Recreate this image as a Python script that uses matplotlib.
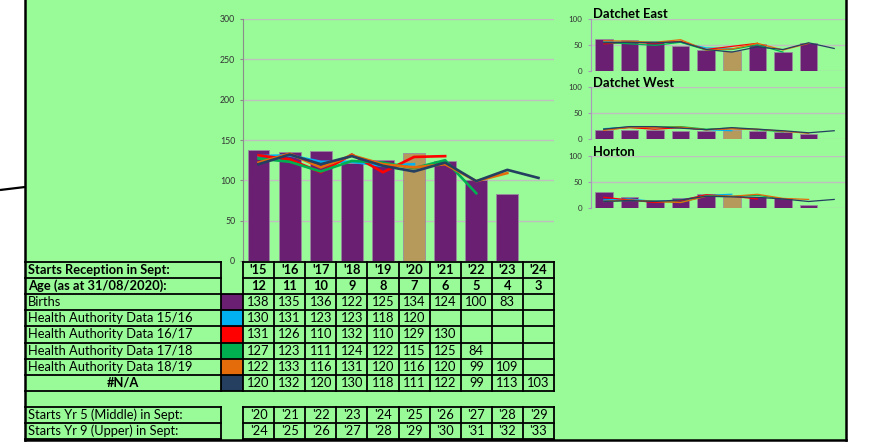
import matplotlib
matplotlib.use("Agg")
import matplotlib.pyplot as plt
from matplotlib.patches import Rectangle

plt.rcParams['font.family'] = ['Lato', 'DejaVu Sans']

# ---------------- data ----------------
years = ["'15", "'16", "'17", "'18", "'19", "'20", "'21", "'22", "'23", "'24"]
ages = ["12", "11", "10", "9", "8", "7", "6", "5", "4", "3"]
yr5 = ["'20", "'21", "'22", "'23", "'24", "'25", "'26", "'27", "'28", "'29"]
yr9 = ["'24", "'25", "'26", "'27", "'28", "'29", "'30", "'31", "'32", "'33"]

births = [138, 135, 136, 122, 125, 134, 124, 100, 83]
ha1516 = [130, 131, 123, 123, 118, 120]
ha1617 = [131, 126, 110, 132, 110, 129, 130]
ha1718 = [127, 123, 111, 124, 122, 115, 125, 84]
ha1819 = [122, 133, 116, 131, 120, 116, 120, 99, 109]
na_series = [120, 132, 120, 130, 118, 111, 122, 99, 113, 103]

series_labels = ["Births", "Health Authority Data 15/16", "Health Authority Data 16/17",
                 "Health Authority Data 17/18", "Health Authority Data 18/19", "#N/A"]

small_titles = ["Datchet East", "Datchet West", "Horton"]
small_births = [[61, 59, 57, 48, 40, 39, 52, 37, 53],
                [17, 18, 18, 15, 15, 17, 16, 14, 10],
                [30, 20, 15, 19, 26, 23, 21, 19, 5]]
small_ha1516 = [[56, 55, 56, 55, 44, 43],
                [20, 23, 22, 22, 18, 16],
                [15, 17, 12, 15, 24, 26]]
small_ha1617 = [[52, 55, 53, 57, 41, 47, 53],
                [18, 22, 19, 22, 18, 20, 18],
                [20, 15, 10, 14, 25, 22, 17]]
small_ha1718 = [[55, 52, 49, 55, 40, 41, 50, 36],
                [19, 23, 23, 24, 19, 21, 18, 14],
                [12, 14, 13, 10, 23, 22, 24, 17]]
small_ha1819 = [[58, 57, 55, 60, 40, 42, 53, 40, 53],
                [17, 23, 22, 23, 18, 20, 19, 15, 11],
                [12, 15, 12, 10, 22, 22, 26, 18, 16]]
small_na = [[54, 55, 54, 56, 41, 36, 46, 41, 54, 43],
            [19, 24, 24, 21, 18, 22, 19, 16, 12, 16],
            [12, 14, 12, 15, 22, 21, 20, 17, 12, 16]]

# ---------------- styles ----------------
BG = '#98FB98'
PURPLE = '#6B1F73'
TAN = '#B59A5B'
C_BLUE = '#00B0F0'
C_RED = '#FF0000'
C_GREEN = '#00B050'
C_ORANGE = '#E46C0A'
C_NAVY = '#243F60'
line_colors = [C_BLUE, C_RED, C_GREEN, C_ORANGE, C_NAVY]
swatch_colors = [PURPLE] + line_colors
GRID = '#BFBFBF'
HIGHLIGHT = 5

W, H = 874, 442
fig = plt.figure(figsize=(W / 100, H / 100), dpi=100, facecolor='white')


def px_axes(x0, y0, x1, y1, **kw):
    return fig.add_axes([x0 / W, 1 - y1 / H, (x1 - x0) / W, (y1 - y0) / H], **kw)


# background overlay
bg = px_axes(0, 0, W, H, zorder=0)
bg.set_xlim(0, W)
bg.set_ylim(H, 0)
bg.axis('off')
bg.add_patch(Rectangle((25, -5), 846 - 25, 445, facecolor=BG, edgecolor='none'))
bg.plot([0, 25], [190, 187], color='black', lw=1.6, solid_capstyle='butt')

# ---------------- main chart ----------------
AX_L, AX_R, AX_T, AX_B = 243, 554, 19, 261
ax = px_axes(AX_L, AX_T, AX_R, AX_B, zorder=2)
ax.set_facecolor('none')
xs = list(range(len(years)))
bar_cols = [TAN if i == HIGHLIGHT else PURPLE for i in range(len(births))]
ax.bar(xs[:len(births)], births, width=0.7, color=bar_cols, edgecolor='#9A8AA0', linewidth=0.6, zorder=2)
for s, c in zip([ha1516, ha1617, ha1718, ha1819, na_series], line_colors):
    ax.plot(xs[:len(s)], s, color=c, lw=1.9, zorder=3, solid_joinstyle='round')
ax.set_xlim(-0.5, len(years) - 0.5)
ax.set_ylim(0, 300)
ax.set_yticks(range(0, 301, 50))
ax.yaxis.grid(True, color=GRID, lw=1.0)
ax.set_axisbelow(True)
ax.set_xticks([])
for sp in ['top', 'right', 'bottom']:
    ax.spines[sp].set_visible(False)
ax.spines['left'].set_color('#8C8C8C')
ax.tick_params(axis='y', length=2.5, pad=3, color='#8C8C8C', labelsize=6.3, labelcolor='#333333')

# ---------------- small charts ----------------
S_L, S_R = 591, 847
tops = [19, 87.3, 156]
SH = 51.7
for k in range(3):
    sa = px_axes(S_L, tops[k], S_R, tops[k] + SH, zorder=2)
    sa.set_facecolor('none')
    b = small_births[k]
    cols = [TAN if i == HIGHLIGHT else PURPLE for i in range(len(b))]
    sa.bar(range(len(b)), b, width=0.68, color=cols, edgecolor='#9A8AA0', linewidth=0.5, zorder=2)
    for s, c in zip([small_ha1516[k], small_ha1617[k], small_ha1718[k], small_ha1819[k], small_na[k]], line_colors):
        sa.plot(range(len(s)), s, color=c, lw=0.9, zorder=3)
    sa.set_xlim(-0.5, 9.5)
    sa.set_ylim(0, 100)
    sa.set_yticks([0, 50, 100])
    sa.yaxis.grid(True, color=GRID, lw=1.0)
    sa.set_axisbelow(True)
    sa.set_xticks([])
    for sp in ['top', 'right', 'bottom']:
        sa.spines[sp].set_visible(False)
    sa.spines['left'].set_color('#A89AB8')
    sa.tick_params(axis='y', length=2.5, pad=3.5, color='#A89AB8', labelsize=5.8, labelcolor='#333333')
    bg.text(593, tops[k] - 4.5, small_titles[k], fontsize=9.4, fontweight='bold', ha='left', va='center', color='black')

# ---------------- table ----------------
top = px_axes(0, 0, W, H, zorder=10)
top.set_xlim(0, W)
top.set_ylim(H, 0)
top.axis('off')
top.patch.set_alpha(0)

LBL_L, LBL_R = 25, 221
DATA_L, DATA_R = AX_L, AX_R
ncol = len(years)
cw = (DATA_R - DATA_L) / ncol
T0 = 262
RH = 16.1
LW = 1.3
FS = 9.3


def row_y(i):
    return T0 + i * RH


def hline(x0, x1, y):
    top.plot([x0, x1], [y, y], color='black', lw=LW, solid_capstyle='projecting', zorder=3)


def vline(x, y0, y1):
    top.plot([x, x], [y0, y1], color='black', lw=LW, solid_capstyle='projecting', zorder=3)


def data_box(r0, r1):
    y0, y1 = row_y(r0), row_y(r1)
    for r in range(r0, r1 + 1):
        hline(DATA_L, DATA_R, row_y(r))
    for c in range(ncol + 1):
        vline(DATA_L + c * cw, y0, y1)


def label_box(r0, r1):
    y0, y1 = row_y(r0), row_y(r1)
    for r in range(r0, r1 + 1):
        hline(LBL_L, LBL_R, row_y(r))
    vline(LBL_R, y0, y1)


# header rows 0-1, series rows 2-7, blank 8, yr rows 9-10
label_box(0, 8)
data_box(0, 8)
label_box(9, 11)
data_box(9, 11)
for r in range(2, 9):
    hline(LBL_R, DATA_L, row_y(r))

row_texts = [("Starts Reception in Sept:", years),
             ("Age (as at 31/08/2020):", ages)]
for i, (lbl, vals) in enumerate(row_texts):
    yc = row_y(i) + RH / 2
    top.text(LBL_L + 3, yc, lbl, fontsize=FS, fontweight='bold', ha='left', va='center')
    for c, v in enumerate(vals):
        top.text(DATA_L + (c + 0.5) * cw, yc, v, fontsize=FS, fontweight='bold', ha='center', va='center')

all_series = [births, ha1516, ha1617, ha1718, ha1819, na_series]
for j, (lbl, vals) in enumerate(zip(series_labels, all_series)):
    r = 2 + j
    yc = row_y(r) + RH / 2
    if lbl == "#N/A":
        top.text((LBL_L + LBL_R) / 2, yc, lbl, fontsize=FS, fontweight='bold', ha='center', va='center')
    else:
        top.text(LBL_L + 3, yc, lbl, fontsize=FS, ha='left', va='center')
    top.add_patch(Rectangle((LBL_R, row_y(r)), DATA_L - LBL_R, RH, facecolor=swatch_colors[j], edgecolor='none', zorder=1))
    for c, v in enumerate(vals):
        top.text(DATA_L + (c + 0.5) * cw, yc, str(v), fontsize=FS, ha='center', va='center')

for i, (lbl, vals) in enumerate([("Starts Yr 5 (Middle) in Sept:", yr5), ("Starts Yr 9 (Upper) in Sept:", yr9)]):
    r = 9 + i
    yc = row_y(r) + RH / 2
    top.text(LBL_L + 3, yc, lbl, fontsize=FS, ha='left', va='center')
    for c, v in enumerate(vals):
        top.text(DATA_L + (c + 0.5) * cw, yc, v, fontsize=FS, ha='center', va='center')

# panel border
top.plot([25, 25], [-5, 440], color='black', lw=1.8, zorder=4)
top.plot([846, 846], [-5, 440], color='black', lw=1.8, zorder=4)
top.plot([25, 846], [440, 440], color='black', lw=1.8, zorder=4)

fig.savefig('out.png', dpi=100, facecolor='white')
